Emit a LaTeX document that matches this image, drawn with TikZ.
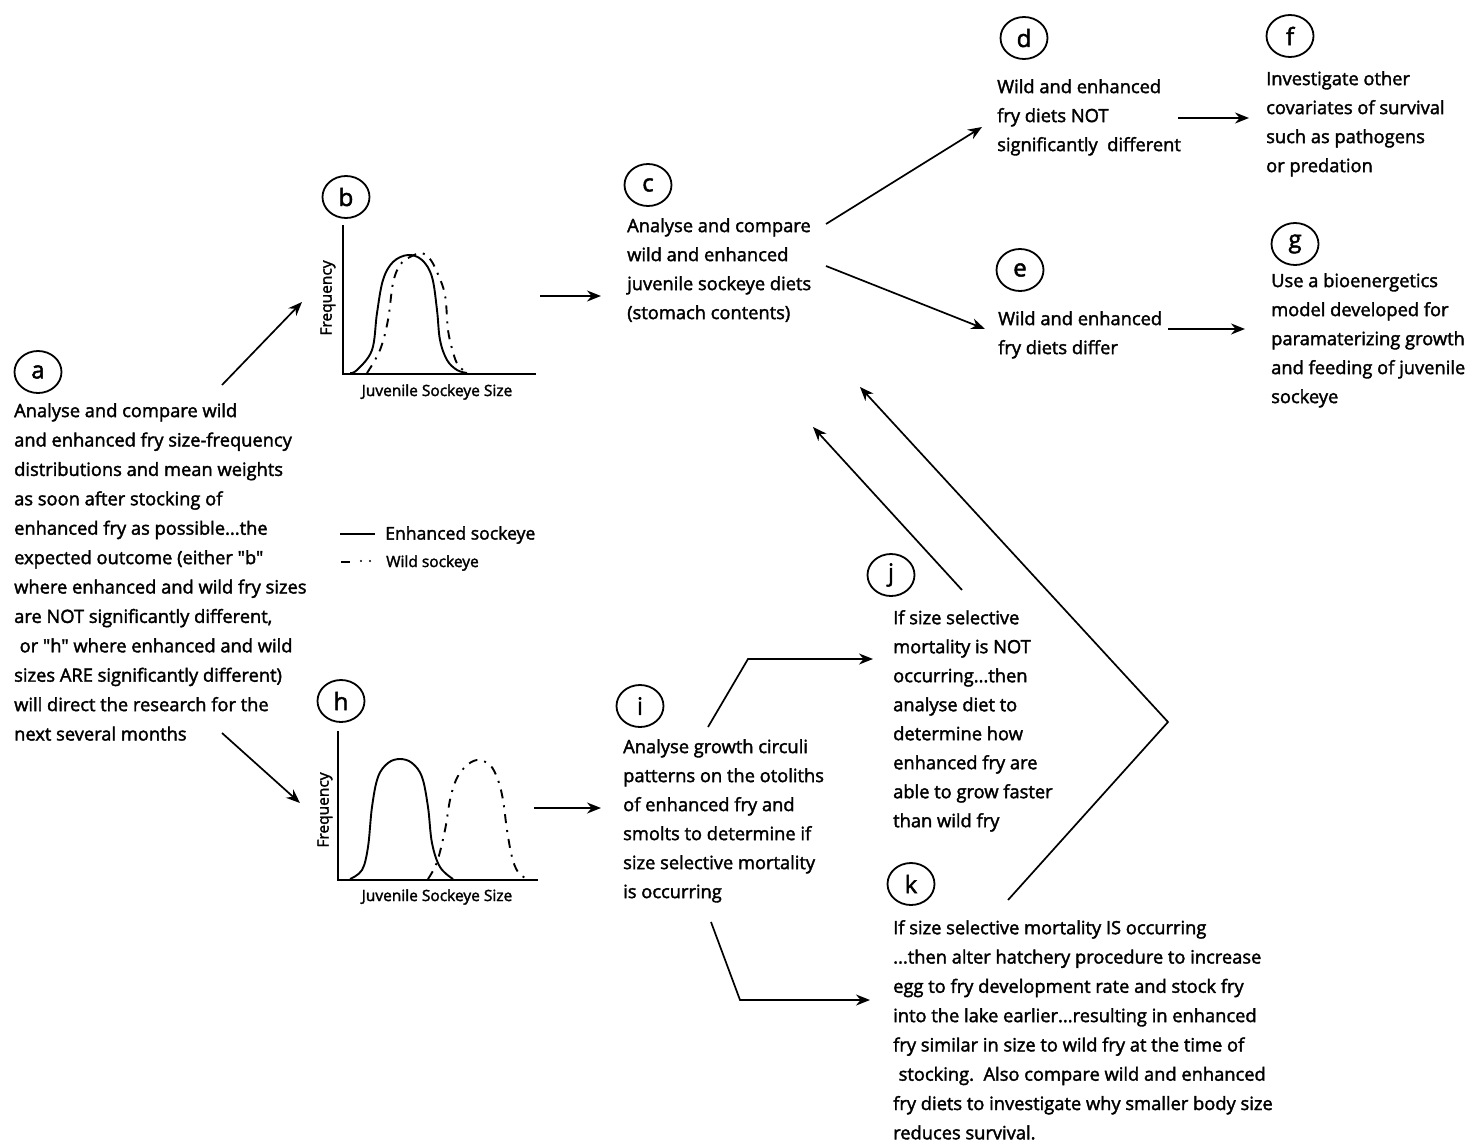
\documentclass[tikz,border=0pt]{standalone}
\usepackage{fontspec}
\newfontfamily\hand{Open Sans}[FakeBold=2]
\usetikzlibrary{arrows.meta,shapes.geometric}
\begin{document}
\begin{tikzpicture}[x=1pt,y=-1pt,
  every node/.style={font=\hand},
  lab/.style={ellipse,draw,line width=1.8pt,minimum width=47pt,minimum height=42pt,inner sep=0pt,font=\hand\fontsize{24}{24}\selectfont},
  txt/.style={anchor=north west,align=left,inner sep=0pt,font=\hand\fontsize{18.3}{29}\selectfont},
  arr/.style={line width=1.7pt,-{Stealth[length=14pt,width=11pt]}},
  axis/.style={line width=1.9pt},
  enh/.style={line width=1.9pt},
  wild/.style={line width=1.9pt,dash pattern=on 9pt off 7pt on 2pt off 7pt},
  small/.style={font=\hand\fontsize{15.5}{15.5}\selectfont},
]
\useasboundingbox (0,0) rectangle (1471,1145);

% labels
\node[lab] (la) at (38,372) {a};
\node[lab] (lb) at (346,197) {b};
\node[lab] (lc) at (648,185) {c};
\node[lab] (ld) at (1024,38) {d};
\node[lab] (le) at (1020,270) {e};
\node[lab] (lf) at (1290,36) {f};
\node[lab] (lg) at (1295,244) {g};
\node[lab] (lh) at (341,701) {h};
\node[lab] (li) at (640,706) {i};
\node[lab] (lj) at (891,575) {j};
\node[lab] (lk) at (911,884) {k};

% texts
\node[txt,font=\hand\fontsize{18.3}{29.4}\selectfont] (ta) at (14,403) {Analyse and compare wild\\and enhanced fry size-frequency\\distributions and mean weights\\as soon after stocking of\\enhanced fry as possible...the\\expected outcome (either "b"\\where enhanced and wild fry sizes\\are NOT significantly different,\\\hspace*{0.3em}or "h" where enhanced and wild\\sizes ARE significantly different)\\will direct the research for the\\next several months};
\node[txt] (tc) at (627,218) {Analyse and compare\\wild and enhanced\\juvenile sockeye diets\\(stomach contents)};
\node[txt] (td) at (997,79) {Wild and enhanced\\fry diets NOT\\significantly\ \ different};
\node[txt] (te) at (998,311) {Wild and enhanced\\fry diets differ};
\node[txt] (tf) at (1266,71) {Investigate other\\covariates of survival\\such as pathogens\\or predation};
\node[txt] (tg) at (1271,273) {Use a bioenergetics\\model developed for\\paramaterizing growth\\and feeding of juvenile\\sockeye};
\node[txt] (ti) at (623,739) {Analyse growth circuli\\patterns on the otoliths\\of enhanced fry and\\smolts to determine if\\size selective mortality\\is occurring};
\node[txt] (tj) at (893,610) {If size selective\\mortality is NOT\\occurring...then\\analyse diet to\\determine how\\enhanced fry are\\able to grow faster\\than wild fry};
\node[txt,font=\hand\fontsize{18.3}{29.3}\selectfont] (tk) at (893,920) {If size selective mortality IS occurring\\...then alter hatchery procedure to increase\\egg to fry development rate and stock fry\\into the lake earlier...resulting in enhanced\\fry similar in size to wild fry at the time of\\\hspace*{0.3em}stocking.\ \ Also compare wild and enhanced\\fry diets to investigate why smaller body size\\reduces survival.};

% plot b
\draw[axis] (343,225) -- (343,374) -- (536,374);
\draw[enh] plot[smooth,tension=0.6] coordinates {(350,373) (357,370) (372,350) (377,313) (383,280) (393,262) (408,255) (422,260) (432,277) (437,310) (440,340) (447,360) (457,370) (467,373)};
\draw[wild] plot[smooth,tension=0.6] coordinates {(367,373) (380,350) (388,320) (393,283) (400,265) (410,257) (422,253) (430,259) (437,272) (445,295) (448,330) (453,352) (458,365) (467,373)};
\node[small,rotate=90] (fb) at (328,298) {Frequency};
\node[small] (xb) at (437,392) {Juvenile Sockeye Size};

% plot h
\draw[axis] (338,731) -- (338,880) -- (538,880);
\draw[enh] plot[smooth,tension=0.6] coordinates {(350,879) (362,870) (368,847) (372,807) (378,777) (388,763) (400,759) (412,763) (422,777) (428,807) (432,843) (440,867) (453,879)};
\draw[wild] plot[smooth,tension=0.6] coordinates {(428,879) (437,862) (445,830) (450,800) (456,780) (465,767) (477,760) (490,765) (498,780) (503,800) (507,830) (512,857) (518,872) (527,879)};
\node[small,rotate=90] (fh) at (325,810) {Frequency};
\node[small] (xh) at (437,897) {Juvenile Sockeye Size};

% legend
\draw[line width=1.4pt] (340,534) -- (375,534);
\node[anchor=west,inner sep=0pt,font=\hand\fontsize{17.6}{17.6}\selectfont] (le1) at (385,535) {Enhanced sockeye};
\draw[line width=1.6pt] (341,562) -- (350,562);
\fill (361,561) circle (1.2pt) (370,561) circle (1.2pt);
\node[anchor=west,inner sep=0pt,font=\hand\fontsize{15.5}{15.5}\selectfont] (le2) at (386,563) {Wild sockeye};

% connector coordinates
\coordinate (ab1) at (222,385); \coordinate (ab2) at (302,302);
\coordinate (ah1) at (222,733); \coordinate (ah2) at (300,803);
\coordinate (bc1) at (540,296); \coordinate (bc2) at (601,296);
\coordinate (hi1) at (534,808); \coordinate (hi2) at (601,808);
\coordinate (cd1) at (826,224); \coordinate (cd2) at (982,127);
\coordinate (ce1) at (826,266); \coordinate (ce2) at (985,329);
\coordinate (df1) at (1178,118); \coordinate (df2) at (1249,118);
\coordinate (eg1) at (1168,329); \coordinate (eg2) at (1245,329);
\coordinate (ij1) at (708,727); \coordinate (ijm) at (748,659); \coordinate (ij2) at (873,659);
\coordinate (ik1) at (711,922); \coordinate (ikm) at (740,1000); \coordinate (ik2) at (870,1000);
\coordinate (jc1) at (962,590); \coordinate (jc2) at (813,427);
\coordinate (kc1) at (1008,900); \coordinate (kcm) at (1168,722); \coordinate (kc2) at (860,387);

\draw[arr] (ab1) -- (ab2);
\draw[arr] (ah1) -- (ah2);
\draw[arr] (bc1) -- (bc2);
\draw[arr] (hi1) -- (hi2);
\draw[arr] (cd1) -- (cd2);
\draw[arr] (ce1) -- (ce2);
\draw[arr] (df1) -- (df2);
\draw[arr] (eg1) -- (eg2);
\draw[arr] (ij1) -- (ijm) -- (ij2);
\draw[arr] (ik1) -- (ikm) -- (ik2);
\draw[arr] (jc1) -- (jc2);
\draw[arr] (kc1) -- (kcm) -- (kc2);
\end{tikzpicture}
\end{document}
